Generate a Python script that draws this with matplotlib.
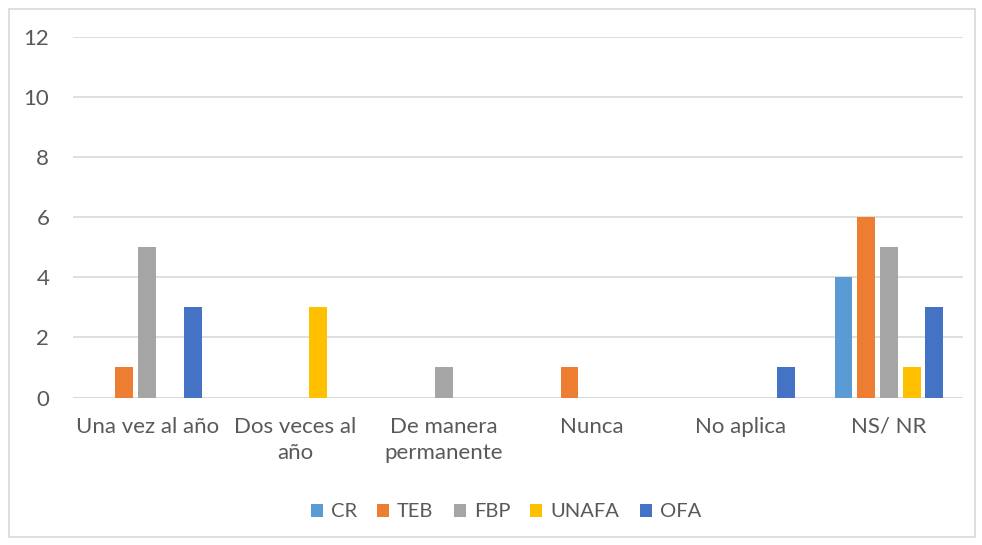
import matplotlib
matplotlib.use("Agg")
import matplotlib.pyplot as plt
import numpy as np
from matplotlib.patches import Rectangle

plt.rcParams['font.family'] = ['Lato', 'DejaVu Sans']

categorias = ["Una vez al año", "Dos veces al\naño", "De manera\npermanente",
              "Nunca", "No aplica", "NS/ NR"]
series = ["CR", "TEB", "FBP", "UNAFA", "OFA"]
colores = ["#5B9BD5", "#ED7D31", "#A5A5A5", "#FFC000", "#4472C4"]

cr = [0, 0, 0, 0, 0, 4]
teb = [1, 0, 0, 1, 0, 6]
fbp = [5, 0, 1, 0, 0, 5]
unafa = [0, 3, 0, 0, 0, 1]
ofa = [3, 0, 0, 0, 1, 3]
valores = [cr, teb, fbp, unafa, ofa]

fig = plt.figure(figsize=(9.82, 5.45), dpi=100)
ax = fig.add_axes([0.0743, 0.2706, 0.9064, 0.6614])

x = np.arange(len(categorias))
paso = 0.153
ancho = 0.121
for i, (nombre, vals, col) in enumerate(zip(series, valores, colores)):
    ax.bar(x + (i - 2) * paso, vals, width=ancho, color=col, label=nombre, zorder=3)

ax.set_xlim(-0.5, len(categorias) - 0.5)
ax.set_ylim(0, 12)
ax.set_yticks(range(0, 13, 2))
ax.set_xticks(x)
ax.set_xticklabels(categorias, ha="center", multialignment="center", linespacing=1.35)
ax.yaxis.grid(True, color="#D9D9D9", linewidth=1.2, zorder=0)
ax.tick_params(axis="both", length=0, labelsize=16, colors="#595959")
ax.tick_params(axis="y", pad=17)
ax.tick_params(axis="x", pad=14)
for s in ax.spines.values():
    s.set_visible(False)
ax.axhline(0, color="#D9D9D9", linewidth=1.2, zorder=2)

handles, labels = ax.get_legend_handles_labels()
leg = fig.legend(handles, labels, loc="center", bbox_to_anchor=(0.515, 0.0606),
                 ncol=5, frameon=False, fontsize=14.5, handlelength=0.6, handleheight=0.6,
                 handletextpad=0.4, columnspacing=1.0)
for t in leg.get_texts():
    t.set_color("#595959")

# marco exterior
fig.patches.append(Rectangle((8.5 / 982, 8.5 / 545), 966 / 982, 528 / 545,
                             transform=fig.transFigure, fill=False,
                             edgecolor="#D9D9D9", linewidth=1.2))

fig.savefig("out.png", dpi=100)
